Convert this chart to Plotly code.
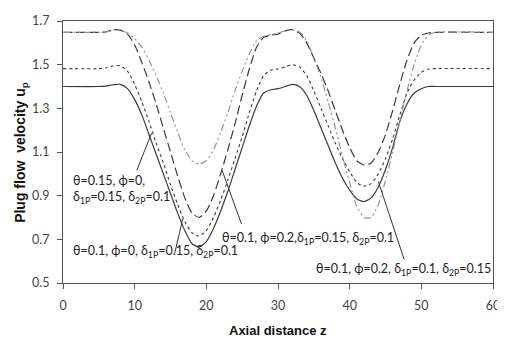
import plotly.graph_objects as go

# ---- data ----
z = [0, 5, 6, 7, 8, 9, 10, 11, 12, 13, 14, 15, 16, 17, 18, 19, 20, 21, 22, 23, 24, 25,
     26, 27, 28, 29, 30, 31, 32, 33, 34, 35, 36, 37, 38, 39, 40, 41, 42, 43, 44, 45, 46,
     47, 48, 49, 50, 51, 52, 60]

u_solid = [1.400, 1.400, 1.402, 1.408, 1.410, 1.39, 1.34, 1.27, 1.18, 1.09, 1.00, 0.91,
           0.82, 0.74, 0.68, 0.665, 0.69, 0.75, 0.83, 0.92, 1.02, 1.12, 1.22, 1.31, 1.37,
           1.385, 1.39, 1.40, 1.41, 1.40, 1.36, 1.29, 1.21, 1.13, 1.05, 0.98, 0.925,
           0.885, 0.873, 0.89, 0.94, 1.02, 1.12, 1.24, 1.32, 1.37, 1.39, 1.40, 1.40, 1.40]

u_dot = [1.482, 1.482, 1.485, 1.495, 1.495, 1.47, 1.41, 1.33, 1.24, 1.14, 1.05, 0.95,
         0.86, 0.78, 0.73, 0.715, 0.74, 0.80, 0.88, 0.97, 1.07, 1.17, 1.28, 1.38, 1.45,
         1.475, 1.48, 1.49, 1.50, 1.49, 1.45, 1.38, 1.30, 1.22, 1.14, 1.07, 1.01, 0.96,
         0.943, 0.955, 1.00, 1.07, 1.16, 1.27, 1.37, 1.43, 1.465, 1.48, 1.482, 1.482]

u_ldash = [1.648, 1.648, 1.650, 1.660, 1.658, 1.64, 1.59, 1.51, 1.42, 1.32, 1.21, 1.10,
           0.99, 0.89, 0.82, 0.80, 0.83, 0.90, 1.00, 1.11, 1.23, 1.36, 1.48, 1.58, 1.625,
           1.635, 1.64, 1.655, 1.66, 1.645, 1.60, 1.53, 1.46, 1.38, 1.29, 1.20, 1.12,
           1.06, 1.04, 1.05, 1.10, 1.18, 1.29, 1.41, 1.52, 1.60, 1.635, 1.645, 1.648, 1.648]

u_dashdot = [1.648, 1.648, 1.650, 1.660, 1.658, 1.645, 1.62, 1.58, 1.52, 1.45, 1.37, 1.28,
             1.19, 1.11, 1.06, 1.045, 1.06, 1.11, 1.19, 1.28, 1.38, 1.47, 1.55, 1.61, 1.63,
             1.638, 1.645, 1.655, 1.66, 1.65, 1.61, 1.53, 1.44, 1.33, 1.21, 1.08, 0.96,
             0.85, 0.80, 0.80, 0.86, 0.97, 1.10, 1.24, 1.38, 1.50, 1.59, 1.635, 1.648, 1.648]

x_ticks = [0, 10, 20, 30, 40, 50, 60]
y_ticks = [0.5, 0.7, 0.9, 1.1, 1.3, 1.5, 1.7]

labels = [
    "θ=0.15, ϕ=0,<br>δ<sub>1P</sub>=0.15, δ<sub>2P</sub>=0.1",
    "θ=0.1, ϕ=0, δ<sub>1P</sub>=0.15, δ<sub>2P</sub>=0.1",
    "θ=0.1, ϕ=0.2,δ<sub>1P</sub>=0.15, δ<sub>2P</sub>=0.1",
    "θ=0.1, ϕ=0.2, δ<sub>1P</sub>=0.1, δ<sub>2P</sub>=0.15",
]

fig = go.Figure()
line_c = "#3a3a3a"
fig.add_trace(go.Scatter(x=z, y=u_solid, mode="lines", line=dict(color=line_c, width=1.2, shape="spline", smoothing=0.6)))
fig.add_trace(go.Scatter(x=z, y=u_dot, mode="lines", line=dict(color=line_c, width=1.1, dash="dot", shape="spline", smoothing=0.6)))
fig.add_trace(go.Scatter(x=z, y=u_ldash, mode="lines", line=dict(color=line_c, width=1.2, dash="9px,4px", shape="spline", smoothing=0.6)))
fig.add_trace(go.Scatter(x=z, y=u_dashdot, mode="lines", line=dict(color="#959595", width=1.2, dash="7px,3px,2px,3px,2px,3px", shape="spline", smoothing=0.6)))

afont = dict(family="Lato, 'Noto Sans', sans-serif", size=12.5, color="#222")
fig.add_annotation(x=1.15, y=0.93, xref="x", yref="y", text=labels[0], showarrow=False,
                   xanchor="left", yanchor="middle", align="left", font=afont)
fig.add_annotation(x=1.15, y=0.645, xref="x", yref="y", text=labels[1], showarrow=False,
                   xanchor="left", yanchor="middle", font=afont)
fig.add_annotation(x=21.9, y=0.704, xref="x", yref="y", text=labels[2], showarrow=False,
                   xanchor="left", yanchor="middle", font=afont)
fig.add_annotation(x=35.0, y=0.560, xref="x", yref="y", text=labels[3], showarrow=False,
                   xanchor="left", yanchor="middle", font=afont)

# pointer lines
ptr = dict(color="#333", width=1)
for (x0, y0, x1, y1) in [(10.3, 1.016, 12.36, 1.186),
                         (15.6, 0.638, 16.7, 0.793),
                         (24.9, 0.771, 22.2, 1.016),
                         (47.6, 0.608, 44.0, 0.965)]:
    fig.add_shape(type="line", x0=x0, y0=y0, x1=x1, y1=y1, xref="x", yref="y", line=ptr)

tick_font = dict(family="Lato, 'Noto Sans', sans-serif", size=12.5, color="#444")
fig.update_xaxes(range=[0, 60], tickvals=x_ticks, ticks="outside", ticklen=5, tickcolor="#555",
                 showline=True, linecolor="#555", linewidth=1.2, mirror=True, showgrid=False,
                 zeroline=False, tickfont=tick_font, ticklabelstandoff=6, ticklabeloverflow="allow")
fig.update_yaxes(range=[0.5, 1.7], tickvals=y_ticks, ticktext=[f"{v:.1f}" for v in y_ticks],
                 ticks="outside", ticklen=5, tickcolor="#555",
                 showline=True, linecolor="#555", linewidth=1.2, mirror=True, showgrid=False,
                 zeroline=False, tickfont=tick_font, ticklabelstandoff=5, ticklabeloverflow="allow")

tfont = dict(family="'Liberation Sans', Arial, sans-serif", size=13, color="#111")
fig.add_annotation(x=-0.098, y=0.5, xref="paper", yref="paper", text="<b>Plug flow  velocity u<sub>p</sub></b>",
                   textangle=-90, showarrow=False, font=dict(tfont, size=14), xanchor="center", yanchor="middle")
fig.add_annotation(x=0.5, y=-0.181, xref="paper", yref="paper", text="<b>Axial distance z</b>",
                   showarrow=False, font=tfont, xanchor="center", yanchor="middle")

# page body has an 8px default margin: shrink the figure so the plot area lands where the reference has it
fig.update_layout(width=497, height=335, margin=dict(l=55, r=5, t=5, b=60),
                  plot_bgcolor="white", paper_bgcolor="white", showlegend=False)

fig.write_html("out.html")
